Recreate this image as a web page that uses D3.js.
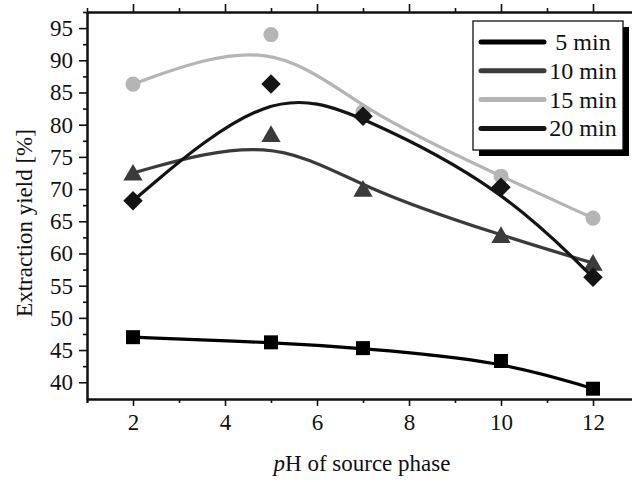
<!DOCTYPE html>
<html>
<head>
<meta charset="utf-8">
<script src="https://cdn.jsdelivr.net/npm/d3@7"></script>
<style>
  body { margin: 0; background: #fff; }
  text { font-family: "Liberation Serif", serif; fill: #111; }
</style>
</head>
<body>
<div id="container"></div>
<script>

var pH = [2, 5, 7, 10, 12];
var yield5 = [47.0, 46.2, 45.3, 43.3, 39.0];
var yield10 = [72.5, 78.5, 70.0, 62.8, 58.5];
var yield15 = [86.3, 94.0, 82.0, 72.0, 65.5];
var yield20 = [68.2, 86.3, 81.3, 70.3, 56.3];
var seriesNames = ["5 min", "10 min", "15 min", "20 min"];
var xTicks = [2, 4, 6, 8, 10, 12];
var yTicks = [40, 45, 50, 55, 60, 65, 70, 75, 80, 85, 90, 95];

var width = 632, height = 482;
var plotLeft = 87, plotTop = 12, plotBottom = 399;

var svg = d3.select("#container").append("svg")
	.attr("width", width)
	.attr("height", height);

var x = d3.scaleLinear().domain([1, 13]).range([plotLeft, 639]);
var y = d3.scaleLinear().domain([37.4, 97.5]).range([plotBottom, plotTop]);

// minor ticks sit halfway between the majors
var xMinor = xTicks.map(function(d) { return d + 1; }).concat([1]);
var yMinor = yTicks.map(function(d) { return d + 2.5; });

function styleAxis(g) {
	g.selectAll(".domain").attr("stroke", "#111").attr("stroke-width", 2);
	g.selectAll(".tick line").attr("stroke", "#111").attr("stroke-width", 1.6);
	g.selectAll("text")
		.style("font-size", "23px")
		.style("font-family", "'Liberation Serif', serif")
		.attr("fill", "#111");
}

// bottom
var gx = svg.append("g").attr("transform", "translate(0," + plotBottom + ")");
gx.append("g").call(d3.axisBottom(x).tickValues(xMinor).tickSize(4).tickFormat(""))
	.call(styleAxis);
gx.append("g").call(d3.axisBottom(x).tickValues(xTicks).tickSize(7).tickPadding(8).tickSizeOuter(0))
	.call(styleAxis);

// top
var gt = svg.append("g").attr("transform", "translate(0," + plotTop + ")");
gt.append("g").call(d3.axisTop(x).tickValues(xMinor).tickSize(4).tickFormat("").tickSizeOuter(0))
	.call(styleAxis);
gt.append("g").call(d3.axisTop(x).tickValues(xTicks).tickSize(8).tickFormat("").tickSizeOuter(0))
	.call(styleAxis);

// left
var gy = svg.append("g").attr("transform", "translate(" + plotLeft + ",0)");
gy.append("g").call(d3.axisLeft(y).tickValues(yMinor).tickSize(4).tickFormat("").tickSizeOuter(0))
	.call(styleAxis);
gy.append("g").call(d3.axisLeft(y).tickValues(yTicks).tickSize(8).tickPadding(6).tickSizeOuter(0))
	.call(styleAxis);

// axis titles
svg.append("text")
	.attr("transform", "translate(32,223) rotate(-90)")
	.attr("text-anchor", "middle")
	.style("font-size", "23px")
	.text("Extraction yield [%]");

var xl = svg.append("text")
	.attr("x", 362)
	.attr("y", 471)
	.attr("text-anchor", "middle")
	.style("font-size", "23px");
xl.append("tspan").style("font-style", "italic").text("p");
xl.append("tspan").text("H of source phase");

// series
var series = [
	{name: seriesNames[0], values: yield5, color: "#000000", symbol: d3.symbolSquare, size: 196, rot: 0},
	{name: seriesNames[1], values: yield10, color: "#3b3b3b", symbol: d3.symbolTriangle, size: 160, rot: 0},
	{name: seriesNames[2], values: yield15, color: "#b5b5b5", symbol: d3.symbolCircle, size: 180, rot: 0},
	{name: seriesNames[3], values: yield20, color: "#141414", symbol: d3.symbolSquare, size: 190, rot: 45}
];

var line = d3.line()
	.x(function(d) { return x(d[0]); })
	.y(function(d) { return y(d[1]); })
	.curve(d3.curveBasis);

series.forEach(function(s) {
	var pts = pH.map(function(p, i) { return [p, s.values[i]]; });
	var g = svg.append("g");
	g.append("path")
		.attr("d", line(pts))
		.attr("fill", "none")
		.attr("stroke", s.color)
		.attr("stroke-width", 3.2);
	g.selectAll("path.pt")
		.data(pts)
		.enter()
		.append("path")
		.attr("class", "pt")
		.attr("d", d3.symbol().type(s.symbol).size(s.size))
		.attr("transform", function(d) {
			var dy = s.symbol === d3.symbolTriangle ? 2 : 0;
			return "translate(" + x(d[0]) + "," + (y(d[1]) + dy) + ") rotate(" + s.rot + ")";
		})
		.attr("fill", s.color);
});

// legend
var lg = svg.append("g");
lg.append("rect").attr("x", 479).attr("y", 27).attr("width", 150).attr("height", 129).attr("fill", "#000");
lg.append("rect").attr("x", 473).attr("y", 21).attr("width", 150).attr("height", 129)
	.attr("fill", "#fff").attr("stroke", "#111").attr("stroke-width", 1.3);
series.forEach(function(s, i) {
	var yy = 42 + i * 28.8;
	lg.append("line")
		.attr("x1", 481).attr("x2", 544)
		.attr("y1", yy).attr("y2", yy)
		.attr("stroke", s.color)
		.attr("stroke-width", 5)
		.attr("stroke-linecap", "round");
	lg.append("text")
		.attr("x", 583)
		.attr("y", yy + 8)
		.attr("text-anchor", "middle")
		.style("font-size", "24px")
		.text(s.name);
});

</script>
</body>
</html>
